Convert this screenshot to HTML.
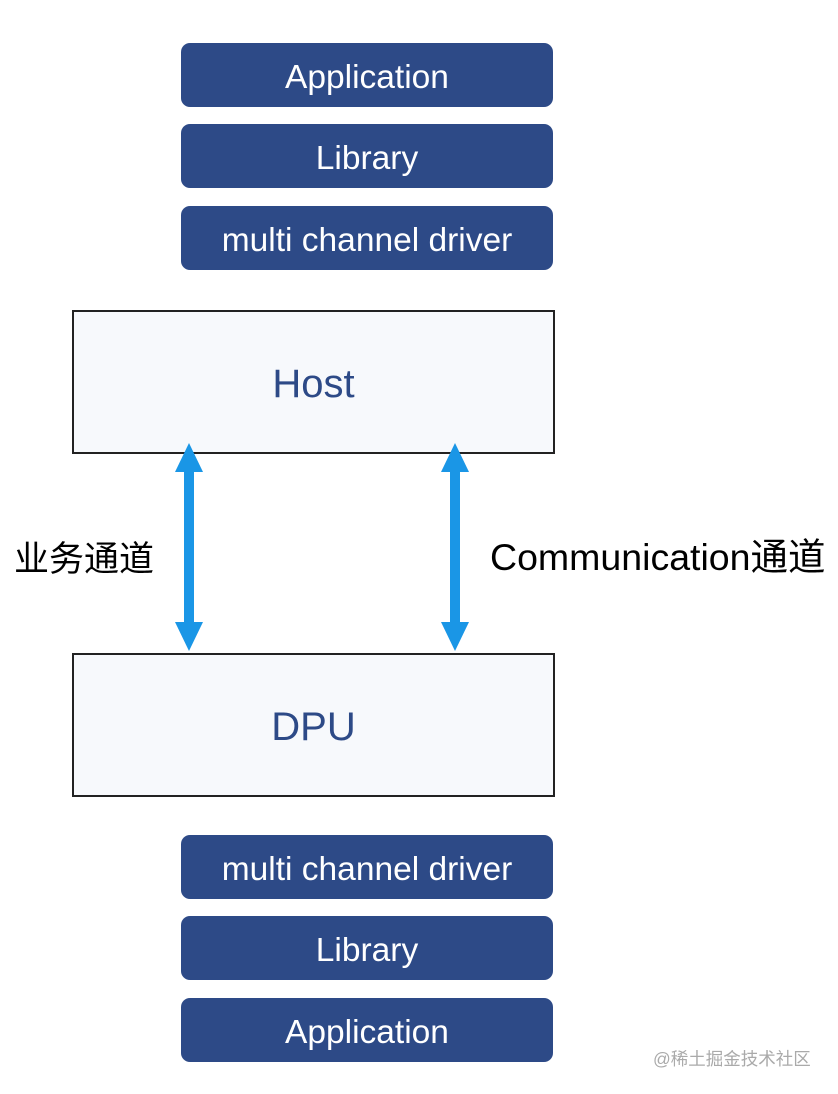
<!DOCTYPE html>
<html><head><meta charset="utf-8"><style>
body{margin:0;width:838px;height:1094px;background:#fff;position:relative;font-family:"Liberation Sans","Noto Sans CJK SC",sans-serif;overflow:hidden}
.b{position:absolute;left:181px;width:372px;height:64px;background:#2d4a87;border-radius:9px;color:#fff;font-size:33.5px;display:flex;align-items:center;justify-content:center;padding-top:6px;box-sizing:border-box}
.h{position:absolute;left:72px;width:479px;height:140px;border:2px solid #222;background:#f7f9fc;color:#2d4a87;font-size:40px;display:flex;align-items:center;justify-content:center;box-sizing:content-box;padding-top:0}
.h span{position:relative;top:2px}
.t{position:absolute;font-size:35px;color:#000}
</style></head><body>
<div class="b" style="top:43px">Application</div>
<div class="b" style="top:124px">Library</div>
<div class="b" style="top:206px">multi channel driver</div>
<div class="h" style="top:310px"><span>Host</span></div>
<div class="h" style="top:653px"><span>DPU</span></div>
<div class="b" style="top:835px">multi channel driver</div>
<div class="b" style="top:916px">Library</div>
<div class="b" style="top:998px">Application</div>
<svg style="position:absolute;left:0;top:0" width="838" height="1094">
<g fill="#1a96e6">
<rect x="184" y="468" width="10" height="160"/>
<polygon points="189,443 175,472 203,472"/>
<polygon points="189,651 175,622 203,622"/>
<rect x="450" y="468" width="10" height="160"/>
<polygon points="455,443 441,472 469,472"/>
<polygon points="455,651 441,622 469,622"/>
</g></svg>
<div class="t" style="left:14px;top:531px">业务通道</div>
<div class="t" style="left:490px;top:526px;font-size:37.5px">Communication通道</div>
<div style="position:absolute;left:653px;top:1046px;font-size:17.5px;color:#aaa">@稀土掘金技术社区</div>
</body></html>
